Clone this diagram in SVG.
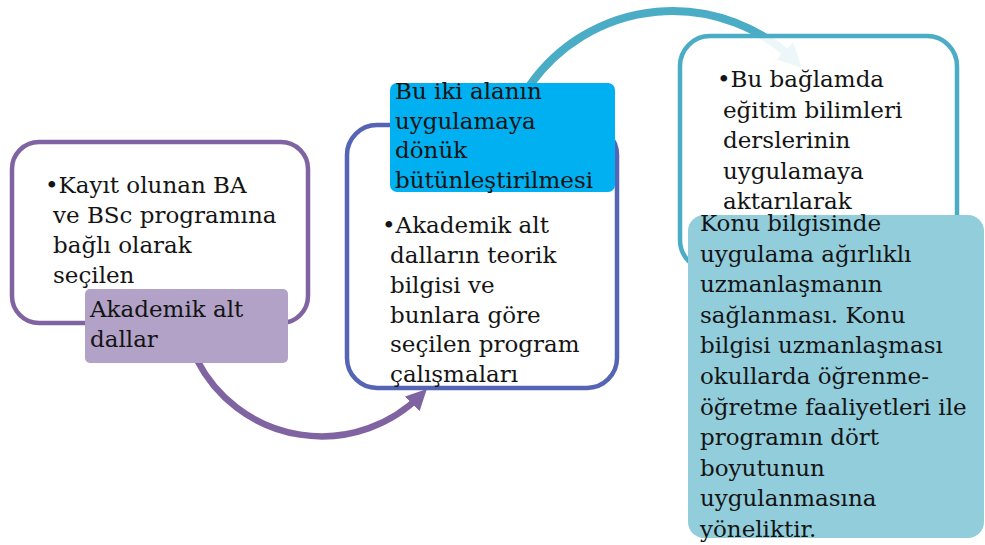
<svg xmlns="http://www.w3.org/2000/svg" width="985" height="545" viewBox="0 0 985 545">
<style>
  .t { font-family: "DejaVu Serif", "Liberation Serif", serif; font-size: 23px; fill: #141414; }
  .box { fill: #ffffff; fill-opacity: 0.9; stroke-width: 4.5; }
</style>
<defs>
  <marker id="ahP" viewBox="0 0 10 10" refX="6" refY="5" markerWidth="3.2" markerHeight="3.2" orient="auto" markerUnits="strokeWidth">
    <path d="M0,0 L10,5 L0,10 Z" fill="#8064A2"/>
  </marker>
  <marker id="ahT" viewBox="0 0 10 10" refX="6" refY="5" markerWidth="3" markerHeight="3" orient="auto" markerUnits="strokeWidth">
    <path d="M0,0 L10,5 L0,10 Z" fill="#4BACC6"/>
  </marker>
</defs>
<g id="connectors">
  <path d="M 197 360 A 140 140 0 0 0 421 395" fill="none" stroke="#8064A2" stroke-width="6.5" marker-end="url(#ahP)"/>
  <path d="M 530 85 A 174.5 174.5 0 0 1 795 61" fill="none" stroke="#4BACC6" stroke-width="8" marker-end="url(#ahT)"/>
</g>
<g id="node1">
  <rect class="box" x="12" y="142" width="296" height="181" rx="27" stroke="#8064A2"/>
  <text class="t" x="45" y="193">•Kayıt olunan BA</text>
  <text class="t" x="53" y="223">ve BSc programına</text>
  <text class="t" x="53" y="253">bağlı olarak</text>
  <text class="t" x="53" y="283">seçilen</text>
</g>
<g id="label1">
  <rect x="85" y="289" width="203" height="74" rx="5" fill="#B2A2C7"/>
  <text class="t" x="90" y="317">Akademik alt</text>
  <text class="t" x="90" y="347">dallar</text>
</g>
<g id="node2">
  <rect class="box" x="347" y="125" width="270" height="263" rx="30" stroke="#5664B6"/>
  <text class="t" x="382" y="233">•Akademik alt</text>
  <text class="t" x="390" y="263">dalların teorik</text>
  <text class="t" x="390" y="293">bilgisi ve</text>
  <text class="t" x="390" y="323">bunlara göre</text>
  <text class="t" x="390" y="352">seçilen program</text>
  <text class="t" x="390" y="382">çalışmaları</text>
</g>
<g id="label2">
  <rect x="390" y="83" width="225" height="109" rx="7" fill="#00B0F0"/>
  <text class="t" x="395" y="99">Bu iki alanın</text>
  <text class="t" x="395" y="128.5">uygulamaya</text>
  <text class="t" x="395" y="158">dönük</text>
  <text class="t" x="395" y="188">bütünleştirilmesi</text>
</g>
<g id="node3">
  <rect class="box" x="680" y="36" width="277" height="234" rx="30" stroke="#4BACC6"/>
  <text class="t" x="717" y="87">•Bu bağlamda</text>
  <text class="t" x="723" y="117.5">eğitim bilimleri</text>
  <text class="t" x="723" y="148">derslerinin</text>
  <text class="t" x="723" y="178.5">uygulamaya</text>
  <text class="t" x="723" y="209">aktarılarak</text>
</g>
<g id="label3">
  <rect x="688" y="215" width="296" height="323" rx="16" fill="#92CDDC"/>
  <text class="t" x="700" y="231">Konu bilgisinde</text>
  <text class="t" x="700" y="261.6">uygulama ağırlıklı</text>
  <text class="t" x="700" y="292.2">uzmanlaşmanın</text>
  <text class="t" x="700" y="322.8">sağlanması. Konu</text>
  <text class="t" x="700" y="353.4">bilgisi uzmanlaşması</text>
  <text class="t" x="700" y="384">okullarda öğrenme-</text>
  <text class="t" x="700" y="414.6">öğretme faaliyetleri ile</text>
  <text class="t" x="700" y="445.2">programın dört</text>
  <text class="t" x="700" y="475.8">boyutunun</text>
  <text class="t" x="700" y="506.4">uygulanmasına</text>
  <text class="t" x="700" y="537">yöneliktir.</text>
</g>
</svg>
